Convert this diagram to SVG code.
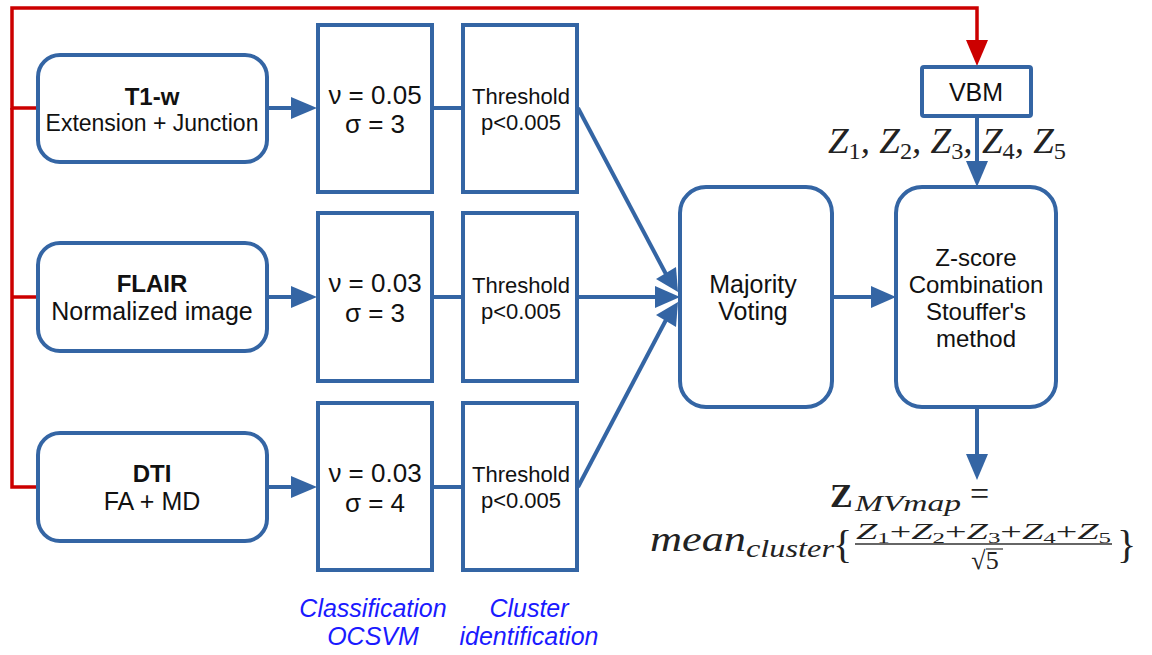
<svg xmlns="http://www.w3.org/2000/svg" width="1152" height="655" viewBox="0 0 1152 655">
<style>
.box{fill:#fff;stroke:#3465a4;stroke-width:4}
.blue{fill:none;stroke:#3465a4;stroke-width:4}
.red{fill:none;stroke:#cc0000;stroke-width:3.5}
.t{font-family:"Liberation Sans",Arial,sans-serif;fill:#111;text-anchor:middle}
.m{font-family:"Liberation Serif","DejaVu Serif",serif;font-style:italic;fill:#222}
.cap{font-family:"Liberation Sans",Arial,sans-serif;font-style:italic;fill:#1a1aff;font-size:25px;text-anchor:middle}
</style>

<g id="connectors">
<path class="red" d="M38,108 H12 V8 H977 V40" />
<path d="M966,40 L988,40 L977,66 z" fill="#cc0000" />
<path class="red" d="M12,108 V487 H38" />
<path class="red" d="M12,297 H38" />

<path class="blue" d="M267,108 H292" />
<path d="M291,97 L317,108 L291,119 z" fill="#3465a4" />
<path class="blue" d="M267,297 H292" />
<path d="M291,286 L317,297 L291,308 z" fill="#3465a4" />
<path class="blue" d="M267,487 H292" />
<path d="M291,476 L317,487 L291,498 z" fill="#3465a4" />

<path class="blue" d="M433,108 H462 M433,297 H462 M433,487 H462" />

<path class="blue" d="M578,108 L667,276" />
<path d="M656,279 L678,292 L676,267 z" fill="#3465a4" />
<path class="blue" d="M578,297 H656" />
<path d="M655,286 L680,297 L655,308 z" fill="#3465a4" />
<path class="blue" d="M578,487 L667,318" />
<path d="M656,315 L678,302 L676,327 z" fill="#3465a4" />

<path class="blue" d="M832,297 H872" />
<path d="M871,286 L896,297 L871,308 z" fill="#3465a4" />

<path class="blue" d="M977,117 V162" />
<path d="M966,161 L977,187 L988,161 z" fill="#3465a4" />

<path class="blue" d="M977,407 V455" />
<path d="M966,454 L977,480 L988,454 z" fill="#3465a4" />
</g>

<g id="t1w">
<rect class="box" x="38" y="55" width="229" height="107" rx="22" />
<text class="t" x="152" y="105" font-size="24" font-weight="bold">T1-w</text>
<text class="t" x="152" y="131" font-size="23">Extension + Junction</text>
</g>
<g id="flair">
<rect class="box" x="38" y="243" width="229" height="108" rx="22" />
<text class="t" x="152" y="292" font-size="24" font-weight="bold">FLAIR</text>
<text class="t" x="152" y="320" font-size="25">Normalized image</text>
</g>
<g id="dti">
<rect class="box" x="38" y="433" width="229" height="108" rx="22" />
<text class="t" x="152" y="482" font-size="24" font-weight="bold">DTI</text>
<text class="t" x="152" y="510" font-size="25">FA + MD</text>
</g>

<g id="svm1">
<rect class="box" x="318" y="25" width="114" height="167" />
<text class="t" x="375" y="104" font-size="26">ν = 0.05</text>
<text class="t" x="375" y="133" font-size="26">σ = 3</text>
</g>
<g id="svm2">
<rect class="box" x="318" y="213" width="114" height="168" />
<text class="t" x="375" y="292" font-size="26">ν = 0.03</text>
<text class="t" x="375" y="322" font-size="26">σ = 3</text>
</g>
<g id="svm3">
<rect class="box" x="318" y="403" width="114" height="167" />
<text class="t" x="375" y="482" font-size="26">ν = 0.03</text>
<text class="t" x="375" y="512" font-size="26">σ = 4</text>
</g>

<g id="thr1">
<rect class="box" x="463" y="25" width="114" height="167" />
<text class="t" x="521" y="104" font-size="22">Threshold</text>
<text class="t" x="521" y="130" font-size="22">p&lt;0.005</text>
</g>
<g id="thr2">
<rect class="box" x="463" y="213" width="114" height="168" />
<text class="t" x="521" y="293" font-size="22">Threshold</text>
<text class="t" x="521" y="319" font-size="22">p&lt;0.005</text>
</g>
<g id="thr3">
<rect class="box" x="463" y="403" width="114" height="167" />
<text class="t" x="521" y="482" font-size="22">Threshold</text>
<text class="t" x="521" y="508" font-size="22">p&lt;0.005</text>
</g>

<g id="mv">
<rect class="box" x="680" y="187" width="152" height="220" rx="26" />
<text class="t" x="753" y="293" font-size="25">Majority</text>
<text class="t" x="753" y="320" font-size="25">Voting</text>
</g>

<g id="zscore">
<rect class="box" x="896" y="187" width="160" height="220" rx="26" />
<text class="t" x="976" y="266" font-size="24">Z-score</text>
<text class="t" x="976" y="293" font-size="24">Combination</text>
<text class="t" x="976" y="320" font-size="24">Stouffer's</text>
<text class="t" x="976" y="347" font-size="24">method</text>
</g>

<g id="vbm">
<rect class="box" x="922" y="67" width="109" height="49" rx="2" />
<text class="t" x="976" y="101" font-size="25">VBM</text>
</g>

<g id="zlabels">
<text class="m" x="828" y="153" font-size="35" textLength="238" lengthAdjust="spacingAndGlyphs">Z<tspan font-style="normal" font-size="23" dy="6">1</tspan><tspan dy="-6">, Z</tspan><tspan font-style="normal" font-size="23" dy="6">2</tspan><tspan dy="-6">, Z</tspan><tspan font-style="normal" font-size="23" dy="6">3</tspan><tspan dy="-6">, Z</tspan><tspan font-style="normal" font-size="23" dy="6">4</tspan><tspan dy="-6">, Z</tspan><tspan font-style="normal" font-size="23" dy="6">5</tspan></text>
</g>

<g id="formula">
<text x="830" y="507" font-family="'Liberation Serif','DejaVu Serif',serif" font-weight="bold" font-size="34" fill="#222">Z</text>
<text class="m" x="855" y="511" font-size="24" textLength="106" lengthAdjust="spacingAndGlyphs">MVmap</text>
<text x="970" y="505" font-family="'Liberation Serif','DejaVu Serif',serif" font-size="34" fill="#222">=</text>
<text class="m" x="650" y="551" font-size="36" textLength="96" lengthAdjust="spacingAndGlyphs">mean</text>
<text class="m" x="746" y="557" font-size="26" textLength="88" lengthAdjust="spacingAndGlyphs">cluster</text>
<text x="833" y="558" font-family="'Liberation Serif','DejaVu Serif',serif" font-size="40" fill="#222">{</text>
<text class="m" x="856" y="539" font-size="23" textLength="255" lengthAdjust="spacingAndGlyphs">Z<tspan font-style="normal" font-size="15" dy="4">1</tspan><tspan font-style="normal" dy="-4">+</tspan>Z<tspan font-style="normal" font-size="15" dy="4">2</tspan><tspan font-style="normal" dy="-4">+</tspan>Z<tspan font-style="normal" font-size="15" dy="4">3</tspan><tspan font-style="normal" dy="-4">+</tspan>Z<tspan font-style="normal" font-size="15" dy="4">4</tspan><tspan font-style="normal" dy="-4">+</tspan>Z<tspan font-style="normal" font-size="15" dy="4">5</tspan></text>
<line x1="855" y1="544" x2="1112" y2="544" stroke="#333" stroke-width="1.5" />
<text x="985" y="569" font-family="'Liberation Serif','DejaVu Serif',serif" font-size="26" fill="#222" text-anchor="middle">√5</text>
<line x1="986" y1="549" x2="1003" y2="549" stroke="#333" stroke-width="1.2" />
<text x="1117" y="558" font-family="'Liberation Serif','DejaVu Serif',serif" font-size="40" fill="#222">}</text>
</g>

<g id="captions">
<text class="cap" x="373" y="617">Classification</text>
<text class="cap" x="373" y="645">OCSVM</text>
<text class="cap" x="529" y="617">Cluster</text>
<text class="cap" x="529" y="645">identification</text>
</g>
</svg>
